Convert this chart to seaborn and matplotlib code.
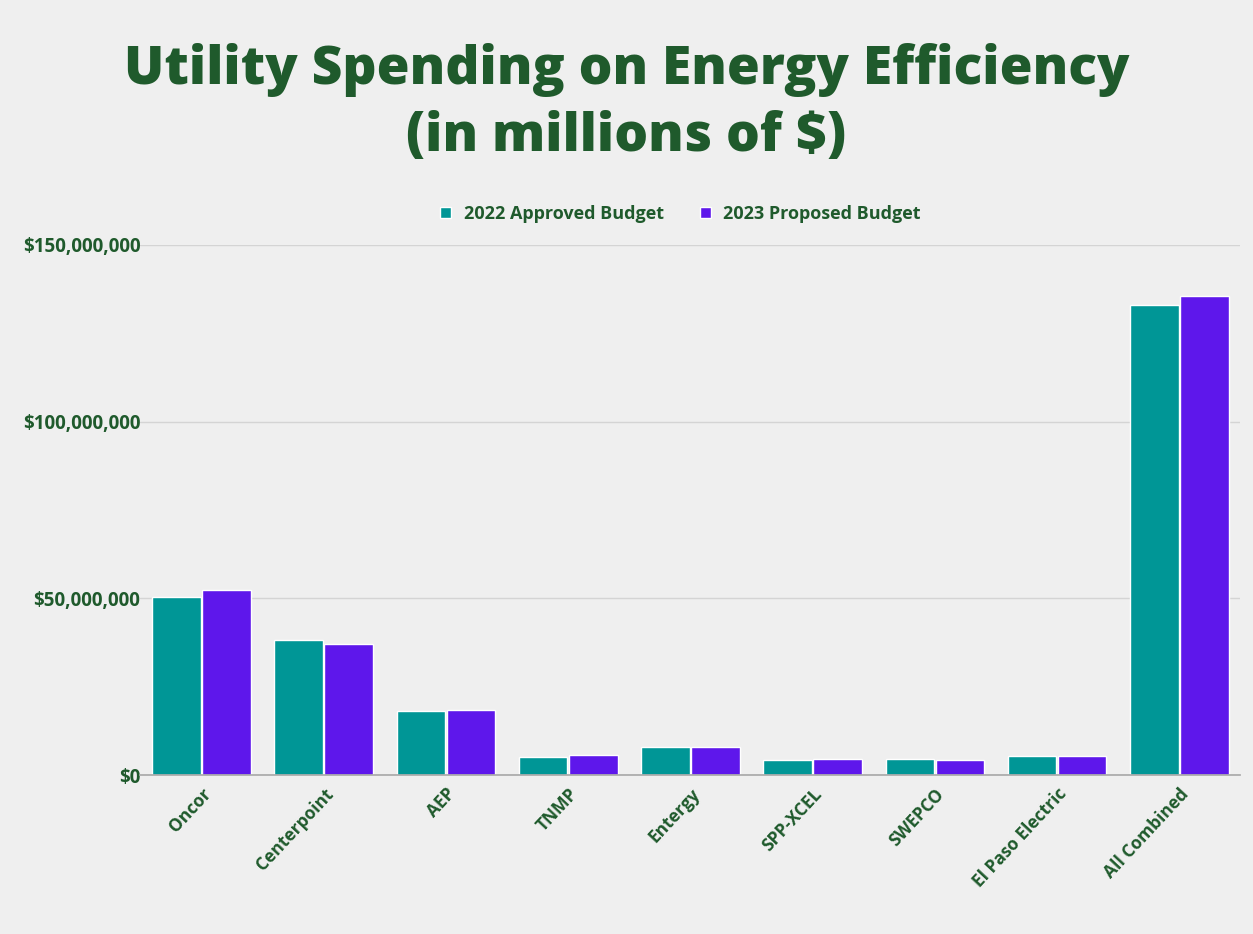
import matplotlib
matplotlib.use("Agg")
import matplotlib.pyplot as plt
import seaborn as sns
import pandas as pd
from matplotlib.ticker import FuncFormatter

categories = ["Oncor", "Centerpoint", "AEP", "TNMP", "Entergy", "SPP-XCEL",
              "SWEPCO", "El Paso Electric", "All Combined"]
budget_2022 = [50.4, 38.2, 18.1, 5.1, 7.9, 4.3, 4.5, 5.4, 133.0]
budget_2023 = [52.4, 37.1, 18.4, 5.7, 7.9, 4.5, 4.4, 5.5, 135.6]
series_names = ["2022 Approved Budget", "2023 Proposed Budget"]
yticks = [0, 50e6, 100e6, 150e6]

green = "#1F5A2C"
bg = "#EFEFEF"
palette = ["#009696", "#5E17EB"]

df = pd.DataFrame({
    "Utility": categories * 2,
    "Series": [series_names[0]] * len(categories) + [series_names[1]] * len(categories),
    "Value": [v * 1e6 for v in budget_2022] + [v * 1e6 for v in budget_2023],
})

sns.set_theme(style="white")
plt.rcParams["font.family"] = ["Open Sans", "DejaVu Sans"]

fig = plt.figure(figsize=(12.53, 9.34), dpi=100, facecolor=bg)
ax = fig.add_axes([0.112, 0.170, 0.878, 0.568])
ax.set_facecolor(bg)

sns.barplot(data=df, x="Utility", y="Value", hue="Series", palette=palette,
            width=0.82, gap=0.03, ax=ax, legend=True, saturation=1)

ax.set_ylim(0, 150e6)
ax.set_yticks(yticks)
ax.yaxis.set_major_formatter(FuncFormatter(lambda v, p: f"${v:,.0f}"))
ax.grid(axis="y", color="#D4D4D4", linewidth=1)
ax.set_axisbelow(True)
for s in ["top", "right", "left"]:
    ax.spines[s].set_visible(False)
ax.spines["bottom"].set_color("#AAAAAA")
ax.set_xlim(-0.5, len(categories) - 0.5)
ax.set_xlabel("")
ax.set_ylabel("")
ax.tick_params(axis="both", length=0)
for lab in ax.get_yticklabels():
    lab.set_fontsize(13.5)
    lab.set_fontweight("bold")
    lab.set_color(green)
ax.tick_params(axis="y", pad=0)
for lab in ax.get_xticklabels():
    lab.set_rotation(47)
    lab.set_ha("right")
    lab.set_rotation_mode("anchor")
    lab.set_fontsize(12.5)
    lab.set_fontweight("bold")
    lab.set_color(green)
ax.tick_params(axis="x", pad=7)

handles, labels = ax.get_legend_handles_labels()
ax.legend_.remove()
leg = fig.legend(handles, labels, loc="center", bbox_to_anchor=(0.543, 0.771),
                 ncol=2, frameon=False, handlelength=0.6, handleheight=0.6,
                 handletextpad=0.7, columnspacing=2.0,
                 prop={"weight": "bold", "size": 13})
for t in leg.get_texts():
    t.set_color(green)

fig.text(0.5, 0.925, "Utility Spending on Energy Efficiency", ha="center", va="center",
         fontsize=38.3, fontweight="heavy", color=green)
fig.text(0.5, 0.853, "(in millions of $)", ha="center", va="center",
         fontsize=38.3, fontweight="heavy", color=green)

fig.savefig("out.png", dpi=100, facecolor=bg)
